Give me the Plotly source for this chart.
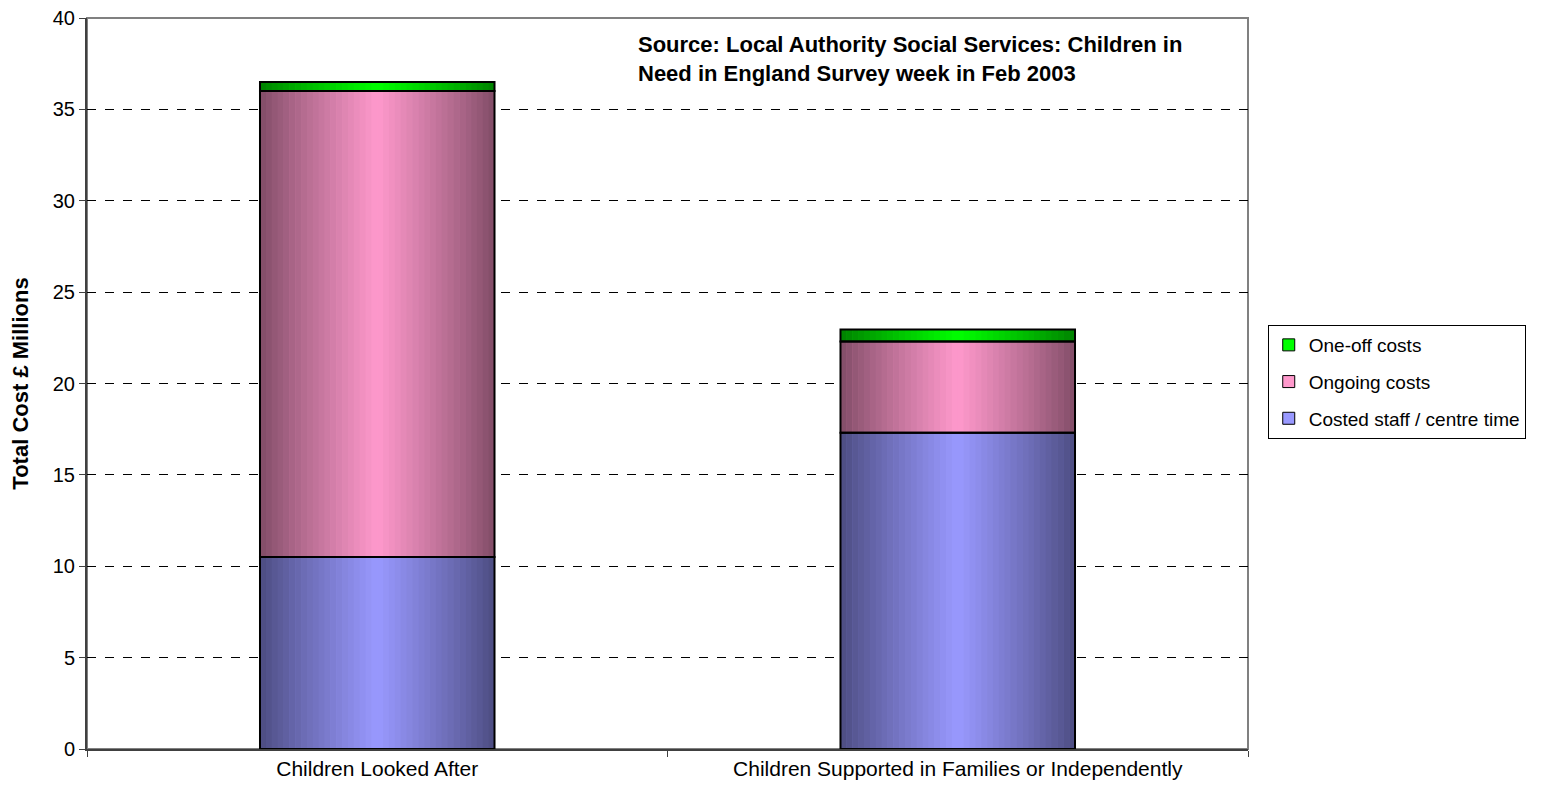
import plotly.graph_objects as go

# values (£ millions)
categories = ["Children Looked After", "Children Supported in Families or Independently"]
series_names = ["Costed staff / centre time", "Ongoing costs", "One-off costs"]
staff_time = [10.5, 17.3]
ongoing_costs = [25.5, 5.0]
one_off_costs = [0.5, 0.65]

source_lines = ["Source: Local Authority Social Services: Children in",
                "Need in England Survey week in Feb 2003"]

# centre colour and edge colour of each series' gradient
centre_colors = [(153, 153, 255), (255, 153, 204), (0, 255, 0)]
edge_colors = [(76, 76, 128), (128, 76, 102), (0, 128, 0)]

FONT = "Liberation Sans, Arial, sans-serif"
bar_w = 0.404
n_slices = 40

fig = go.Figure()

series_vals = [staff_time, ongoing_costs, one_off_costs]
bases = []
running = [0.0] * len(categories)
for vals in series_vals:
    bases.append(list(running))
    running = [r + v for r, v in zip(running, vals)]

# legend entries (hidden under the gradient slices)
for i, (name, vals) in enumerate(zip(series_names, series_vals)):
    c = centre_colors[i]
    fig.add_trace(go.Bar(
        name=name, x=categories, y=vals, base=bases[i],
        width=bar_w, offset=-bar_w / 2,
        marker=dict(color=f"rgb{c}", line=dict(color="black", width=1)),
        legendgroup=name, legendrank=10 - i, hoverinfo="skip"))

# gradient: many thin slices, dark at the edges, light in the middle
for i, vals in enumerate(series_vals):
    c, e = centre_colors[i], edge_colors[i]
    for k in range(n_slices):
        u = (k + 0.5) / n_slices
        t = (1 - abs(2 * u - 1)) ** 0.9
        col = tuple(int(round(e[j] + (c[j] - e[j]) * t)) for j in range(3))
        fig.add_trace(go.Bar(
            x=categories, y=vals, base=bases[i],
            width=bar_w / n_slices * 1.08,
            offset=-bar_w / 2 + k * bar_w / n_slices,
            marker=dict(color=f"rgb{col}", line=dict(width=0)),
            showlegend=False, hoverinfo="skip"))

# black outlines of the segments
for i, (name, vals) in enumerate(zip(series_names, series_vals)):
    fig.add_trace(go.Bar(
        x=categories, y=vals, base=bases[i],
        width=bar_w, offset=-bar_w / 2,
        marker=dict(color="rgba(0,0,0,0)", line=dict(color="black", width=2)),
        showlegend=False, name=name,
        hovertemplate="%{x}<br>" + name + ": %{y}<extra></extra>"))

# page body has an 8px margin, so the figure is sized to fit inside the window
fig.update_layout(
    width=1533, height=780,
    barmode="overlay",
    paper_bgcolor="white", plot_bgcolor="white",
    margin=dict(l=79, r=293, t=10, b=39),
    font=dict(family=FONT, size=21, color="black"),
    showlegend=True,
    legend=dict(x=1.017, xanchor="left", y=0.58, yanchor="top",
                bordercolor="black", borderwidth=1, bgcolor="white",
                traceorder="grouped", tracegroupgap=9, itemwidth=30,
                font=dict(family=FONT, size=19, color="black")),
    shapes=[dict(type="rect", xref="paper", yref="paper", x0=0, x1=1, y0=0, y1=1,
                 line=dict(color="#808080", width=2), layer="below")],
)

fig.update_xaxes(
    type="category", range=[-0.5, 1.5], tickson="boundaries", automargin=False,
    ticks="outside", ticklen=6, tickcolor="#404040",
    showline=True, linecolor="#404040", linewidth=2, showgrid=False,
    tickfont=dict(family=FONT, size=21, color="black"))

fig.update_yaxes(
    range=[0, 40], dtick=5, tick0=0, automargin=False, ticklabeloverflow="allow",
    ticks="outside", ticklen=6, tickcolor="#404040",
    showline=True, linecolor="#404040", linewidth=2,
    showgrid=True, gridcolor="black", gridwidth=1, griddash="dash",
    zeroline=False,
    tickfont=dict(family=FONT, size=20, color="black"),
    title=dict(text="<b>Total Cost £ Millions</b>", standoff=22,
               font=dict(family=FONT, size=22, color="black")))

for line, yp in zip(source_lines, [0.9644, 0.9234]):
    fig.add_annotation(
        text=f"<b>{line}</b>", xref="paper", yref="paper",
        x=0.4729, y=yp, xanchor="left", yanchor="middle", showarrow=False,
        font=dict(family=FONT, size=22, color="black"))

fig.write_html("out.html")
